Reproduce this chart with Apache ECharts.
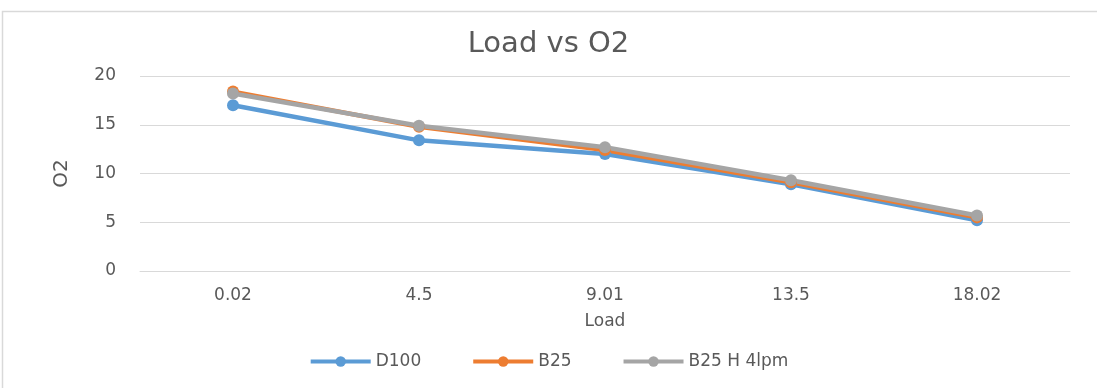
<!DOCTYPE html>
<html>
<head>
<meta charset="utf-8">
<script src="https://cdn.jsdelivr.net/npm/echarts@6/dist/echarts.min.js"></script>
<style>
  html, body { margin: 0; padding: 0; background: #fff; }
  #chart { width: 1097px; height: 388px; }
</style>
</head>
<body>
<div id="chart"></div>
<script>
// Engine load (categories) and measured O2 for each fuel blend
const loads = ['0.02', '4.5', '9.01', '13.5', '18.02'];
const d100 = [17.0, 13.4, 12.0, 8.9, 5.2];
const b25 = [18.4, 14.8, 12.4, 9.1, 5.5];
const b25h4 = [18.2, 14.9, 12.7, 9.3, 5.7];
const yTicks = { min: 0, max: 20, interval: 5 };

const textColor = '#595959';
const font = 'DejaVu Sans';

function lineSeries(name, data, color) {
  return {
    name: name,
    type: 'line',
    data: data,
    symbol: 'circle',
    symbolSize: 12,
    lineStyle: { width: 4.5, color: color },
    itemStyle: { color: color },
    emphasis: { disabled: true }
  };
}

const chart = echarts.init(document.getElementById('chart'));
chart.setOption({
  animation: false,
  textStyle: { fontFamily: font },
  graphic: [{
    type: 'rect',
    shape: { x: 2.5, y: 11.5, width: 1200, height: 500 },
    style: { fill: 'none', stroke: '#d9d9d9', lineWidth: 1.5 },
    silent: true
  }],
  title: {
    text: 'Load vs O2',
    left: 'center',
    top: 25,
    textStyle: { fontFamily: font, fontSize: 29, fontWeight: 'normal', color: textColor }
  },
  grid: { left: 140, right: 27, top: 76, bottom: 117 },
  legend: {
    bottom: 13,
    left: 'center',
    itemWidth: 60,
    itemHeight: 13,
    itemGap: 50,
    lineStyle: { width: 4 },
    textStyle: { fontFamily: font, fontSize: 17, color: textColor },
    data: ['D100', 'B25', 'B25 H 4lpm']
  },
  xAxis: {
    type: 'category',
    data: loads,
    boundaryGap: true,
    name: 'Load',
    nameLocation: 'middle',
    nameGap: 42,
    nameTextStyle: { fontFamily: font, fontSize: 17, color: textColor },
    axisLine: { show: true, lineStyle: { color: '#d9d9d9', width: 1 } },
    axisTick: { show: false },
    axisLabel: { fontFamily: font, fontSize: 17, color: textColor, margin: 16 }
  },
  yAxis: {
    type: 'value',
    min: yTicks.min,
    max: yTicks.max,
    interval: yTicks.interval,
    name: 'O2',
    nameLocation: 'middle',
    nameRotate: 90,
    nameGap: 68,
    nameTextStyle: { fontFamily: font, fontSize: 20, color: textColor },
    axisLine: { show: false },
    axisTick: { show: false },
    axisLabel: { fontFamily: font, fontSize: 17, color: textColor, margin: 24 },
    splitLine: { lineStyle: { color: '#d9d9d9', width: 1 } }
  },
  series: [
    lineSeries('D100', d100, '#5B9BD5'),
    lineSeries('B25', b25, '#ED7D31'),
    lineSeries('B25 H 4lpm', b25h4, '#A5A5A5')
  ]
});
</script>
</body>
</html>
